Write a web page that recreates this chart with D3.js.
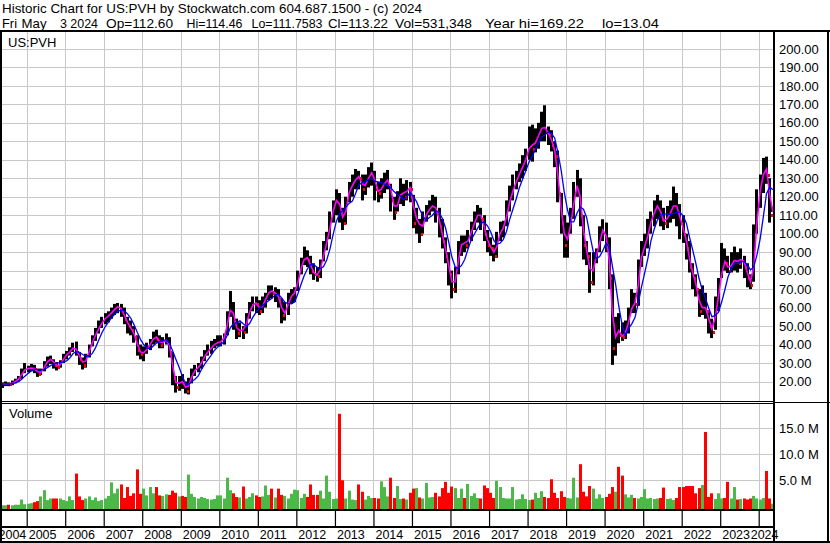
<!DOCTYPE html>
<html>
<head>
<meta charset="utf-8">
<script src="https://cdn.jsdelivr.net/npm/d3@7"></script>
<style>
body { margin: 0; background: #fff; }
svg { display: block; }
text { font-family: Arial, "Liberation Sans", sans-serif; fill: #000; }
</style>
</head>
<body>
<script>
// Monthly bars, May 2004 .. May 2024
const firstMonth = "2004-05";
const lastDay = "2024-05-03";

const hi = [
  19.5, 20, 19.5, 20.5, 21.5, 23, 27, 30,
  28.5, 29.5, 29, 27, 27, 31, 33.5, 34, 32, 30.5, 31.5, 35,
  36.5, 38.5, 41, 41.6, 36, 33, 35, 40, 45, 49, 53, 55,
  57, 58, 60, 62, 62.5, 62, 60, 55, 53, 50, 45, 40,
  39, 41, 43, 47, 48, 45, 44, 46, 44, 36, 23, 23,
  24, 20, 22, 27, 29, 30, 33.5, 37, 40, 42, 43, 45,
  45, 46, 58, 69, 63, 54, 52, 50, 57, 63, 66, 66,
  64, 66, 68, 72, 72, 71, 70, 65, 63, 68, 70, 71,
  80, 87, 93, 91, 88, 84, 82, 86, 96, 101, 112, 118,
  124, 122, 114, 120, 128, 132, 135, 134, 132, 132, 136, 138.5,
  134, 128, 130, 133, 134.5, 127, 120, 123, 130, 127, 129, 128,
  121, 114, 108, 112, 115.5, 118, 121, 120, 114, 108, 98, 90,
  80, 82, 96, 99, 99, 102, 106.5, 112, 115.5, 114, 110, 102,
  98, 94, 101, 106.5, 107, 118, 126, 132, 134, 138, 142.5, 146,
  158, 159, 157, 160, 166, 169.5, 158, 156, 150, 145, 122, 110,
  106, 114, 128, 134.5, 130, 110, 96, 90, 90, 92, 104, 107.8,
  106, 98, 78, 55, 57, 52, 53, 60, 70, 68, 86, 96,
  100, 108, 112, 118, 121, 118, 114, 115, 118, 125.5, 122, 116,
  110, 100, 96, 84, 78, 70, 72, 68, 58, 54, 66, 76,
  95, 92, 88, 90, 93, 90, 92, 88, 84, 78, 105, 124,
  132, 141, 141.7, 130, 114.5
];

const lo = [
  16.5, 17.5, 17.5, 18, 19, 20, 21.5, 24.5,
  25, 25.5, 24.5, 22.5, 23.5, 25.5, 28, 29.5, 27, 26, 27.5, 30,
  32, 34, 36, 34, 29, 26.5, 27.5, 33, 39, 42, 46, 49,
  51, 52, 54, 56, 57, 55, 51, 46, 45, 41, 34, 32,
  31, 35, 37, 40, 41, 38, 38, 40, 33, 18, 14, 15,
  16, 13.5, 13, 19, 23, 25, 27, 31, 34, 35, 38, 39,
  39, 40, 45, 55, 48, 43, 44, 43, 46, 54, 58, 57,
  56, 57, 60, 64, 65, 63, 60, 51.5, 53, 56, 62, 63,
  69, 78, 83, 82, 78, 75, 74, 76, 85, 91, 97, 106,
  110, 106, 102, 105, 117, 120, 124, 124, 118, 121, 125, 126,
  118, 117, 119, 122, 124, 112, 107.5, 112, 116, 115, 118, 117,
  103, 100, 95, 100, 106.5, 110, 112, 106, 98, 92, 84, 72,
  65, 68, 78, 88, 90, 92, 96, 102, 106, 102, 96, 90,
  88, 85, 87, 96, 98, 104, 112, 118, 124, 128, 130, 134,
  140, 139, 144, 146, 150, 150, 148, 144.5, 136, 117, 100, 87,
  87, 100, 108, 120, 104, 86, 83, 68, 72, 84, 90, 96,
  90, 70, 29, 34, 40.7, 42, 43, 46, 57, 57, 61, 82,
  88, 92, 100, 104, 108, 104, 102, 103, 106, 108, 104, 97,
  95, 86, 79, 70, 66, 55, 56, 54, 46, 43.5, 48, 58,
  76, 80, 78.7, 79, 80, 79, 81, 76, 71, 70, 74, 100,
  114, 122, 127, 106, 111.8
];

const close = [
  18.5, 19, 18.5, 19.5, 20.5, 22, 25.5, 27,
  27, 27.5, 26.5, 24, 26, 29, 32, 32, 29, 28, 30, 34,
  35, 37, 39, 36, 32, 29, 33, 39, 43, 47, 50, 53,
  55, 56, 58, 60, 61, 58, 54, 50, 48, 44, 37, 35,
  36, 39, 41, 45, 43, 40, 42, 43, 36, 22, 17, 21,
  19, 15, 20, 25, 27, 28, 32, 35, 37, 39, 41, 41,
  42, 45, 55, 62, 52, 46, 49, 47, 55, 60, 63, 62,
  58, 63, 66, 70, 68, 68, 64, 56, 58, 65, 67, 69,
  78, 84, 88, 86, 80, 78, 77, 84, 92, 98, 108, 116,
  120, 112, 106, 118, 126, 126, 132, 130, 124, 128, 132, 134,
  124, 122, 126, 128, 130, 118, 112, 118, 124, 120, 126, 124,
  106, 110, 100, 108, 112, 114, 116, 112, 104, 96, 88, 78,
  70, 78, 92, 96, 94, 98, 103, 108, 112, 108, 100, 94,
  92, 88, 98, 102, 104, 114, 120, 126, 130, 134, 138, 142,
  150, 146, 152, 154, 160, 155, 154, 148, 142, 122, 106, 94,
  100, 110, 122, 130, 110, 94, 88, 74, 86, 90, 100, 104,
  94, 76, 38, 50, 45, 44, 48, 56, 63, 62, 82, 92,
  94, 104, 108, 114, 116, 108, 106, 110, 112, 118, 112, 106,
  100, 92, 82, 76, 70, 58, 62, 58, 50, 47, 62, 70,
  86, 84, 80, 85, 86, 84, 88, 82, 76, 72, 92, 120,
  126, 138, 132, 110, 113.2
];

// magenta (short) and blue (long) average lines
const maShort = [
  18.5, 18.8, 18.8, 19, 20, 21.3, 23.8, 26.3,
  27, 27.3, 27, 25.3, 25, 27.5, 30.5, 32, 30.5, 28.5, 29, 32,
  34.5, 36, 38, 37.5, 34, 30.5, 31, 36, 41, 45, 48.5, 51.5,
  54, 55.5, 57, 59, 60.5, 59.5, 56, 52, 49, 46, 40.5, 36,
  35.5, 37.5, 40, 43, 44, 41.5, 41, 42.5, 39.5, 29, 19.5, 19,
  20, 17, 17.5, 22.5, 26, 27.5, 30, 33.5, 36, 38, 40, 41,
  41.5, 43.5, 50, 58.5, 57, 49, 47.5, 48, 51, 57.5, 61.5, 62.5,
  60, 60.5, 64.5, 68, 69, 68, 66, 60, 57, 61.5, 66, 68,
  73.5, 81, 86, 87, 83, 79, 77.5, 80.5, 88, 95, 103, 112,
  118, 116, 109, 112, 122, 126, 129, 131, 127, 126, 130, 133,
  129, 123, 124, 127, 129, 124, 115, 115, 121, 122, 123, 125,
  115, 108, 105, 104, 110, 113, 115, 114, 108, 100, 92, 83,
  74, 74, 85, 94, 95, 96, 100.5, 105.5, 110, 110, 104, 97,
  93, 90, 93, 100, 103, 109, 117, 123, 128, 132, 136, 140,
  146, 148, 149, 153, 157, 157.5, 154.5, 151, 145, 132, 114, 100,
  97, 105, 116, 126, 120, 102, 91, 81, 80, 88, 95, 102,
  99, 85, 57, 44, 47.5, 44.5, 46, 52, 59.5, 62.5, 72, 87,
  93, 99, 106, 111, 115, 112, 107, 108, 111, 115, 115, 109,
  103, 96, 87, 79, 73, 64, 60, 60, 54, 48.5, 54.5, 66,
  78, 85, 82, 82.5, 85.5, 85, 86, 85, 79, 74, 82, 106,
  123, 132, 135, 121, 111.6
];

const maLong = [
  18.5, 18.8, 18.7, 18.9, 19.2, 19.9, 21.2, 22.9,
  24.4, 25.8, 26.7, 26.4, 26.2, 26.6, 27.5, 28.6, 29.6, 30, 30.2, 30.6,
  31.2, 32.8, 35, 36.2, 35.8, 34.6, 33.8, 33.8, 35.2, 38.2, 42.4, 46.4,
  49.6, 52.2, 54.4, 56.4, 58, 58.6, 58.2, 56.6, 54.2, 50.8, 46.6, 42.8,
  40, 38.2, 37.6, 39.2, 40.8, 41.6, 42.2, 42.6, 40.8, 36.6, 32, 27.8,
  23, 18.8, 18.4, 20, 21.2, 23, 26.4, 29.4, 31.8, 34.2, 36.8, 38.6,
  40, 41.6, 44.8, 49, 51.2, 52, 52.8, 51.2, 49.8, 51.4, 54.8, 57.4,
  59.6, 61.2, 62.4, 63.8, 65, 67, 67.2, 65.2, 62.8, 62.2, 62, 63,
  67.4, 72.6, 77.2, 81, 83.2, 83.2, 81.8, 81, 82.2, 85.8, 91.8, 99.6,
  106.8, 110.8, 112.4, 114.4, 116.4, 117.6, 121.6, 126.4, 127.6, 128, 129.2, 129.6,
  128.4, 128, 127.6, 126.8, 126, 124.8, 122.8, 121.2, 120.4, 118.4, 120, 122.4,
  120, 117.2, 113.2, 109.6, 107.2, 108.8, 110, 112.4, 111.6, 108.4, 103.2, 95.6,
  87.2, 82, 81.2, 82.8, 86, 91.6, 96.6, 99.8, 103, 105.8, 106.2, 104.4,
  101.2, 96.4, 94.4, 94.8, 96.8, 101.2, 107.6, 113.2, 118.8, 124.8, 129.6, 134,
  138.8, 142, 145.6, 148.8, 152.4, 153.4, 155, 154.2, 151.8, 144.2, 134.4, 122.4,
  112.8, 106.4, 106.4, 111.2, 114.4, 113.2, 108.8, 99.2, 90.4, 86.4, 87.6, 90.8,
  94.8, 92.8, 82.4, 72.4, 60.6, 50.6, 45, 48.6, 51.2, 54.6, 62.2, 71,
  78.6, 86.8, 96, 102.4, 107.2, 110, 110.4, 110.8, 110.4, 110.8, 111.6, 111.6,
  109.6, 105.6, 98.4, 91.2, 84, 75.6, 69.6, 64.8, 59.6, 55, 55.8, 57.4,
  63, 69.8, 76.4, 81, 84.2, 83.8, 84.6, 85, 83.2, 80.4, 82, 88.4,
  97.2, 109.6, 121.6, 125.2, 123.8
];

// volume in millions
const volume = [
  0.2, 0.2, 0.3, 0.2, 0.3, 0.3, 1.3, 0.4,
  0.5, 0.6, 0.8, 1.0, 1.9, 3.1, 1.2, 1.5, 1.5, 1.5, 1.5, 1.2,
  1.0, 1.9, 1.2, 6.3, 1.9, 1.2, 1.5, 1.9, 1.2, 1.7, 1.0, 1.2,
  1.5, 2.0, 4.6, 2.5, 3.4, 4.2, 1.6, 3.7, 2.0, 2.5, 7.1, 2.4,
  3.4, 2.1, 3.7, 2.5, 3.7, 2.1, 2.0, 2.3, 2.2, 3.0, 2.6, 1.9,
  2.0, 1.8, 6.1, 2.4, 1.8, 1.5, 1.8, 1.6, 1.4, 1.3, 1.4, 2.1,
  2.1, 1.5, 5.5, 3.1, 2.5, 1.8, 1.7, 3.8, 1.5, 1.8, 2.5, 2.1,
  1.8, 1.9, 4.0, 2.2, 3.4, 1.7, 3.4, 2.2, 2.0, 1.5, 2.4, 3.2,
  3.1, 1.6, 2.4, 1.8, 4.2, 2.2, 2.2, 3.0, 1.5, 5.9, 2.8, 1.4,
  1.5, 17.8, 5.0, 1.5, 3.0, 1.3, 1.2, 4.2, 2.8, 1.3, 2.0, 1.6,
  1.6, 1.5, 4.8, 3.7, 1.9, 5.5, 1.6, 3.9, 1.4, 1.5, 1.3, 2.6,
  3.4, 3.5, 1.7, 1.5, 4.5, 1.7, 1.8, 2.6, 1.9, 3.5, 4.7, 2.6,
  3.8, 3.5, 1.6, 3.4, 1.6, 4.3, 2.0, 2.5, 1.6, 1.5, 4.0, 3.5,
  2.6, 1.6, 4.9, 3.7, 1.6, 1.5, 1.5, 3.7, 1.3, 1.4, 2.3, 1.4,
  1.2, 1.3, 2.6, 1.6, 2.9, 1.8, 1.6, 5.2, 2.6, 1.6, 2.9, 1.8,
  1.6, 1.5, 5.5, 1.7, 8.1, 2.8, 1.9, 3.9, 3.4, 1.5, 2.3, 1.6,
  1.8, 2.4, 3.7, 2.8, 7.6, 5.9, 2.3, 1.7, 2.2, 1.6, 1.5, 1.8,
  3.3, 1.5, 1.6, 1.4, 1.5, 1.6, 3.6, 1.4, 1.5, 1.2, 1.6, 3.7,
  3.7, 3.9, 3.9, 3.9, 2.5, 3.5, 4.1, 14.3, 1.8, 2.5, 1.4, 2.5,
  1.5, 1.6, 4.7, 1.5, 3.7, 1.3, 1.4, 1.5, 1.3, 1.5, 2.0, 1.5,
  1.3, 1.6, 6.8, 1.5, 0.5
];

const priceTicks = [20, 30, 40, 50, 60, 70, 80, 90, 100, 110, 120, 130, 140, 150, 160, 170, 180, 190, 200];
const volTicks = [5, 10, 15];
const yearLabels = ["2004", "2005", "2006", "2007", "2008", "2009", "2010", "2011", "2012", "2013", "2014",
                    "2015", "2016", "2017", "2018", "2019", "2020", "2021", "2022", "2023", "2024"];

// header: text, left x, width
const title1 = ["Historic Chart for US:PVH by Stockwatch.com 604.687.1500 - (c) 2024", 2, 420];
const title2 = [["Fri", 2, 15], ["May", 21.5, 25], ["3 2024", 60, 38], ["Op=112.60", 106, 67],
                ["Hi=114.46", 186.5, 56], ["Lo=111.7583", 251.5, 71], ["Cl=113.22", 328, 60],
                ["Vol=531,348", 395, 77], ["Year hi=169.22", 485, 99], ["lo=13.04", 602, 57]];

// Layout
const w = 830, h = 543;
const plotL = 2, plotR = 773;
const priceTop = 32, priceBot = 401;
const volTop = 404, volBot = 509;

const svg = d3.select("body").append("svg")
  .attr("width", w)
  .attr("height", h);

svg.append("rect").attr("width", w).attr("height", h).attr("fill", "#fff");

// Dates of the bars
const parseMonth = d3.timeParse("%Y-%m");
const parseDay = d3.timeParse("%Y-%m-%d");
const months = d3.timeMonth.range(parseMonth(firstMonth), d3.timeMonth.offset(parseDay(lastDay), 1));
const dates = months.map((m, i) => i === months.length - 1 ? parseDay(lastDay) : d3.timeDay.offset(m, 14));
const idx = d3.range(dates.length);

// Scales
const x = d3.scaleTime()
  .domain([new Date(2005, 0, 1), new Date(2024, 0, 1)])
  .range([26.7, 758.7]);
const yP = d3.scaleLinear().domain([20, 200]).range([381.5, 48.9]);
const yV = d3.scaleLinear().domain([0, 15]).range([506.3, 428.3]);

const yearStarts = yearLabels.map(y => new Date(+y, 0, 1));

// clip paths
const defs = svg.append("defs");
defs.append("clipPath").attr("id", "clipP").append("rect")
  .attr("x", plotL).attr("y", priceTop).attr("width", plotR - plotL).attr("height", priceBot - priceTop);
defs.append("clipPath").attr("id", "clipV").append("rect")
  .attr("x", plotL).attr("y", volTop).attr("width", plotR - plotL).attr("height", volBot - volTop);

// Grid
const grid = svg.append("g").attr("stroke", "#c8c8c8").attr("stroke-width", 1);
grid.selectAll(".hp").data(priceTicks).join("line")
  .attr("x1", plotL).attr("x2", plotR)
  .attr("y1", d => Math.round(yP(d)) + 0.5).attr("y2", d => Math.round(yP(d)) + 0.5);
grid.selectAll(".hv").data(volTicks).join("line")
  .attr("x1", plotL).attr("x2", plotR)
  .attr("y1", d => Math.round(yV(d)) + 0.5).attr("y2", d => Math.round(yV(d)) + 0.5);
grid.selectAll(".vp").data(yearStarts.slice(1)).join("line")
  .attr("x1", d => Math.round(x(d)) + 0.5).attr("x2", d => Math.round(x(d)) + 0.5)
  .attr("y1", priceTop).attr("y2", priceBot);
grid.selectAll(".vv").data(yearStarts.slice(1)).join("line")
  .attr("x1", d => Math.round(x(d)) + 0.5).attr("x2", d => Math.round(x(d)) + 0.5)
  .attr("y1", volTop).attr("y2", volBot);

// Price bars
const gp = svg.append("g").attr("clip-path", "url(#clipP)");
gp.selectAll(".bar").data(idx).join("rect")
  .attr("x", i => Math.round(x(dates[i]) - 1.5))
  .attr("y", i => yP(hi[i]))
  .attr("width", 3)
  .attr("height", i => yP(lo[i]) - yP(hi[i]))
  .attr("fill", "#000");

// red close ticks on down months
gp.selectAll(".tick").data(idx.filter(i => i > 0 && close[i] < close[i - 1])).join("rect")
  .attr("x", i => Math.round(x(dates[i])) + 1)
  .attr("y", i => Math.round(yP(close[i])) - 1)
  .attr("width", 2)
  .attr("height", 3)
  .attr("fill", "#ff0000");

const line = d3.line().x((d, i) => x(dates[i])).y(d => yP(d));
gp.append("path").attr("d", line(maShort))
  .attr("fill", "none").attr("stroke", "#ff00ff").attr("stroke-width", 1.6);
gp.append("path").attr("d", line(maLong))
  .attr("fill", "none").attr("stroke", "#0000ff").attr("stroke-width", 1.3);

// Volume bars
const gv = svg.append("g").attr("clip-path", "url(#clipV)");
gv.selectAll("rect").data(idx).join("rect")
  .attr("x", i => Math.round(x(dates[i]) - 1.5))
  .attr("y", i => yV(volume[i]))
  .attr("width", 3)
  .attr("height", i => volBot - yV(volume[i]))
  .attr("fill", i => (i === 0 || close[i] >= close[i - 1]) ? "#4cb848" : "#ff0000");

// Right axes
const axP = svg.append("g")
  .attr("transform", `translate(${plotR + 1},0)`)
  .call(d3.axisRight(yP).tickValues(priceTicks).tickFormat(d3.format(".2f")).tickSize(0).tickPadding(5));
axP.select(".domain").remove();
axP.selectAll("text").attr("font-size", 13).attr("font-family", "Arial, 'Liberation Sans', sans-serif").attr("fill", "#000");

const axV = svg.append("g")
  .attr("transform", `translate(${plotR + 1},0)`)
  .call(d3.axisRight(yV).tickValues(volTicks).tickFormat(d => d.toFixed(1) + " M").tickSize(0).tickPadding(5));
axV.select(".domain").remove();
axV.selectAll("text").attr("font-size", 13).attr("font-family", "Arial, 'Liberation Sans', sans-serif").attr("fill", "#000");

// Bottom time axis: separators in the tick row
const axX = svg.append("g")
  .attr("transform", `translate(0,${volBot + 1})`)
  .call(d3.axisBottom(x).tickValues(yearStarts.slice(1)).tickSize(17).tickFormat(""));
axX.select(".domain").remove();
axX.selectAll("line").attr("stroke", "#000").attr("stroke-width", 1.2);

// Year labels
svg.append("g").selectAll("text").data(yearLabels).join("text")
  .attr("x", (d, i) => i === 0 ? -1.5 : x(yearStarts[i]) + 2)
  .attr("y", 539)
  .attr("font-size", 12.5)
  .attr("text-anchor", (d, i) => i === yearLabels.length - 1 ? "end" : "start")
  .attr("transform", (d, i) => i === yearLabels.length - 1 ? "translate(" + (778.5 - x(yearStarts[i]) - 2) + ",0)" : null)
  .text(d => d);

// Panel labels
svg.append("text").attr("x", 8).attr("y", 47).attr("font-size", 13).text("US:PVH");
svg.append("text").attr("x", 9).attr("y", 418).attr("font-size", 13).text("Volume");

// Title
svg.append("text").attr("x", title1[1]).attr("y", 13).attr("font-size", 13)
  .attr("textLength", title1[2]).attr("lengthAdjust", "spacingAndGlyphs").text(title1[0]);
svg.append("g").selectAll("text").data(title2).join("text")
  .attr("x", d => d[1]).attr("y", 27.6).attr("font-size", 13)
  .attr("textLength", d => d[2]).attr("lengthAdjust", "spacingAndGlyphs")
  .text(d => d[0]);

// Frame
const frame = svg.append("g").attr("fill", "#000");
frame.append("rect").attr("x", 0).attr("y", 30).attr("width", w).attr("height", 2);
frame.append("rect").attr("x", 0).attr("y", 30).attr("width", 2).attr("height", h - 30);
frame.append("rect").attr("x", 827).attr("y", 30).attr("width", 2).attr("height", h - 30);
frame.append("rect").attr("x", 0).attr("y", 541).attr("width", w).attr("height", 2);
frame.append("rect").attr("x", plotR).attr("y", 30).attr("width", 2).attr("height", h - 30);
frame.append("rect").attr("x", 0).attr("y", 401).attr("width", plotR).attr("height", 1);
frame.append("rect").attr("x", 0).attr("y", 403).attr("width", plotR).attr("height", 1);
frame.append("rect").attr("x", plotR).attr("y", 402).attr("width", w - plotR).attr("height", 1);
frame.append("rect").attr("x", 0).attr("y", 509).attr("width", plotR).attr("height", 2);
frame.append("rect").attr("x", 0).attr("y", 526).attr("width", plotR).attr("height", 2);
</script>
</body>
</html>
